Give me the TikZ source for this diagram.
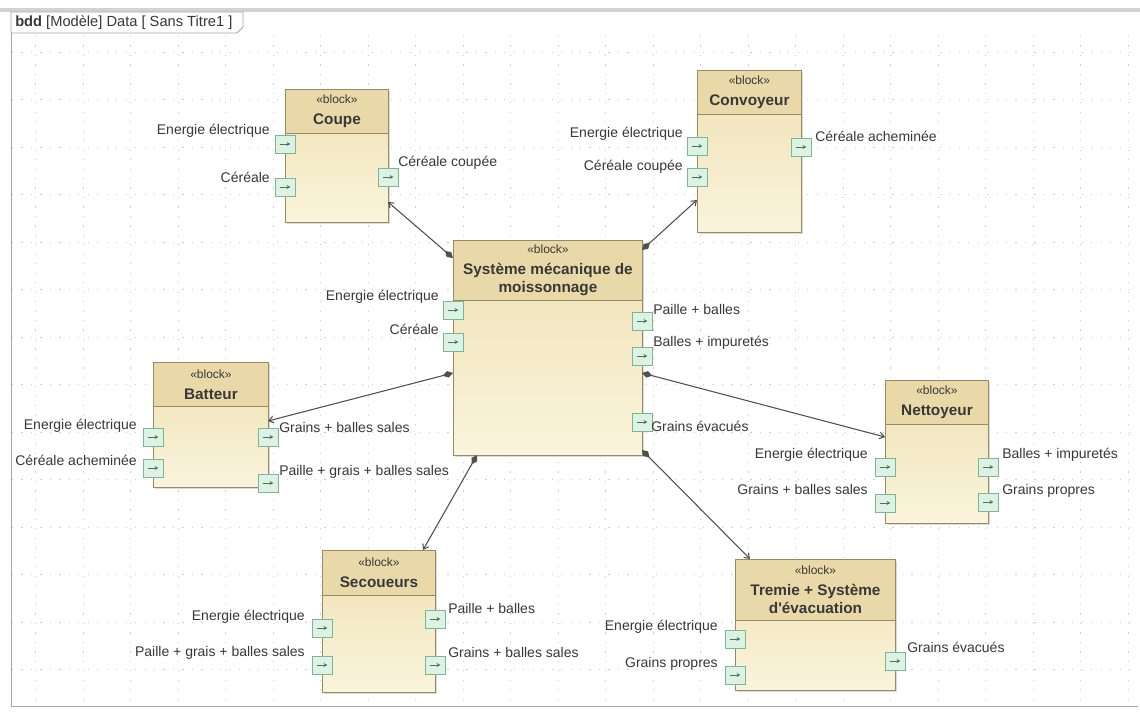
\documentclass[tikz,border=0pt]{standalone}
\usepackage{fontspec}
\setmainfont{Liberation Sans}
\usetikzlibrary{arrows.meta,shadows}
\definecolor{bordbloc}{HTML}{9A8A62}
\definecolor{fondentete}{HTML}{E9D9A9}
\definecolor{corpshaut}{HTML}{EEE1B3}
\definecolor{corpsbas}{HTML}{FAF4DC}
\definecolor{bordport}{HTML}{79B992}
\definecolor{fondport}{HTML}{DDF1E4}
\definecolor{flecheverte}{HTML}{3E7A56}
\definecolor{texte}{HTML}{383838}
\definecolor{lienc}{HTML}{505050}
\begin{document}
\begin{tikzpicture}[x=0.75pt,y=-0.75pt]
% Styles
\tikzstyle{grille}=[gray!40,line width=0.7pt,dash pattern=on 0.9pt off 6.2pt]
\tikzstyle{cadre}=[gray!70,line width=0.6pt]
\tikzstyle{bloc}=[draw=bordbloc,line width=0.7pt,anchor=north west,inner sep=0pt,top color=corpshaut,bottom color=corpsbas,drop shadow={shadow xshift=1.3pt,shadow yshift=-1.3pt,fill=gray!55}]
\tikzstyle{entete}=[draw=bordbloc,line width=0.7pt,fill=fondentete,anchor=north west,inner sep=0pt,align=center,text=texte,font=\fontsize{11.5}{13.5}\selectfont\bfseries]
\tikzstyle{port}=[draw=bordport,fill=fondport,line width=0.7pt,minimum width=15pt,minimum height=13.5pt,inner sep=0pt,path picture={\draw[-{Stealth[length=2.8pt,width=3pt]},flecheverte,line width=0.6pt] ([xshift=-4pt]path picture bounding box.center) -- ([xshift=4pt]path picture bounding box.center);}]
\tikzstyle{etiqG}=[anchor=east,inner sep=0pt,text=texte,font=\fontsize{10.5}{12}\selectfont]
\tikzstyle{etiqD}=[anchor=west,inner sep=0pt,text=texte,font=\fontsize{10.5}{12}\selectfont]
\tikzstyle{lien}=[lienc,line width=0.8pt,{Diamond[length=8pt,width=5pt]}-{Straight Barb[length=3.5pt,width=5pt]}]
% Dimensions
\def\px{0.75pt}
\def\stereo{{\fontsize{9}{11}\selectfont\mdseries «block»}\\[2pt]}
\useasboundingbox (0,0) rectangle (1140,716);
\fill[white] (0,0) rectangle (1140,716);
% Grille
\foreach \k in {0,...,23}
  \draw[grille] ({35.5+47.5*\k},36) -- ({35.5+47.5*\k},705);
\foreach \k in {0,...,13}
  \draw[grille] (12,{52+47.5*\k}) -- (1138,{52+47.5*\k});
% Encadrement
\draw[gray!35,line width=3pt] (0,10) -- (1140,10);
\draw[cadre] (11,12) -- (11,706) -- (1138,706);
\draw[cadre,fill=white] (11,12) -- (243,12) -- (243,27) -- (237,33) -- (11,33) -- cycle;
\node[anchor=west,inner sep=0pt,text=texte,font=\fontsize{11}{13}\selectfont] (titre) at (15,23) {\textbf{bdd} [Modèle] Data [ Sans Titre1 ]};
% Bloc : Coupe
\node[bloc,minimum width=103*\px,minimum height=133*\px] (coupe) at (285,89) {};
\node[entete,minimum width=103*\px,minimum height=44*\px] (coupeT) at (285,89) {\stereo Coupe};
\node[port] (coupeE1) at (285,144) {};
\node[port] (coupeE2) at (285,187) {};
\node[port] (coupeS1) at (388,177) {};
\node[etiqG] (coupeL1) at (270,131) {Energie électrique};
\node[etiqG] (coupeL2) at (270,177) {Céréale};
\node[etiqD] (coupeL3) at (398,163) {Céréale coupée};
% Bloc : Convoyeur
\node[bloc,minimum width=104*\px,minimum height=162*\px] (conv) at (697,70) {};
\node[entete,minimum width=104*\px,minimum height=44*\px] (convT) at (697,70) {\stereo Convoyeur};
\node[port] (convE1) at (697,146) {};
\node[port] (convE2) at (697,177) {};
\node[port] (convS1) at (801,147) {};
\node[etiqG] (convL1) at (683,134) {Energie électrique};
\node[etiqG] (convL2) at (683,167) {Céréale coupée};
\node[etiqD] (convL3) at (815,136) {Céréale acheminée};
% Bloc : Système mécanique de moissonnage
\node[bloc,minimum width=189*\px,minimum height=215*\px] (sys) at (453,240) {};
\node[entete,minimum width=189*\px,minimum height=60*\px] (sysT) at (453,240) {\stereo Système mécanique de\\moissonnage};
\node[port] (sysE1) at (453,310) {};
\node[port] (sysE2) at (453,342) {};
\node[port] (sysS1) at (642,321) {};
\node[port] (sysS2) at (642,356) {};
\node[port] (sysS3) at (642,422) {};
\node[etiqG] (sysL1) at (439,297) {Energie électrique};
\node[etiqG] (sysL2) at (439,329) {Céréale};
\node[etiqD] (sysL3) at (653,309) {Paille + balles};
\node[etiqD] (sysL4) at (653,343) {Balles + impuretés};
\node[etiqD] (sysL5) at (651,426) {Grains évacués};
% Bloc : Batteur
\node[bloc,minimum width=115*\px,minimum height=125*\px] (batt) at (153,362) {};
\node[entete,minimum width=115*\px,minimum height=44*\px] (battT) at (153,362) {\stereo Batteur};
\node[port] (battE1) at (153,437) {};
\node[port] (battE2) at (153,468) {};
\node[port] (battS1) at (268,437) {};
\node[port] (battS2) at (268,483) {};
\node[etiqG] (battL1) at (137,426) {Energie électrique};
\node[etiqG] (battL2) at (137,460) {Céréale acheminée};
\node[etiqD] (battL3) at (279,427) {Grains + balles sales};
\node[etiqD] (battL4) at (279,472) {Paille + grais + balles sales};
% Bloc : Nettoyeur
\node[bloc,minimum width=103*\px,minimum height=143*\px] (nett) at (885,380) {};
\node[entete,minimum width=103*\px,minimum height=44*\px] (nettT) at (885,380) {\stereo Nettoyeur};
\node[port] (nettE1) at (885,467) {};
\node[port] (nettE2) at (885,503) {};
\node[port] (nettS1) at (988,467) {};
\node[port] (nettS2) at (988,502) {};
\node[etiqG] (nettL1) at (868,455) {Energie électrique};
\node[etiqG] (nettL2) at (868,489) {Grains + balles sales};
\node[etiqD] (nettL3) at (1002,455) {Balles + impuretés};
\node[etiqD] (nettL4) at (1002,491) {Grains propres};
% Bloc : Secoueurs
\node[bloc,minimum width=113*\px,minimum height=142*\px] (sec) at (322,550) {};
\node[entete,minimum width=113*\px,minimum height=45*\px] (secT) at (322,550) {\stereo Secoueurs};
\node[port] (secE1) at (322,628) {};
\node[port] (secE2) at (322,665) {};
\node[port] (secS1) at (435,619) {};
\node[port] (secS2) at (435,665) {};
\node[etiqG] (secL1) at (305,617) {Energie électrique};
\node[etiqG] (secL2) at (305,653) {Paille + grais + balles sales};
\node[etiqD] (secL3) at (448,608) {Paille + balles};
\node[etiqD] (secL4) at (448,652) {Grains + balles sales};
% Bloc : Tremie + Système d'évacuation
\node[bloc,minimum width=160*\px,minimum height=131*\px] (trem) at (735,559) {};
\node[entete,minimum width=160*\px,minimum height=61*\px] (tremT) at (735,559) {\stereo Tremie + Système\\d\textquotesingle évacuation};
\node[port] (tremE1) at (735,639) {};
\node[port] (tremE2) at (735,675) {};
\node[port] (tremS1) at (895,661) {};
\node[etiqG] (tremL1) at (718,627) {Energie électrique};
\node[etiqG] (tremL2) at (718,664) {Grains propres};
\node[etiqD] (tremL3) at (907,647) {Grains évacués};
% Points d'attache
\coordinate (sysA1) at (453,258);
\coordinate (sysA2) at (642,250);
\coordinate (sysA3) at (453,373);
\coordinate (sysA4) at (642,373);
\coordinate (sysA5) at (477,455);
\coordinate (sysA6) at (642,450);
\coordinate (coupeA) at (388,202);
\coordinate (convA) at (697,200);
\coordinate (battA) at (268,421);
\coordinate (nettA) at (885,437);
\coordinate (secA) at (423,550);
\coordinate (tremA) at (750,559);
% Liens de composition
\draw[lien] (sysA1) -- (coupeA);
\draw[lien] (sysA2) -- (convA);
\draw[lien] (sysA3) -- (battA);
\draw[lien] (sysA4) -- (nettA);
\draw[lien] (sysA5) -- (secA);
\draw[lien] (sysA6) -- (tremA);
\end{tikzpicture}
\end{document}
